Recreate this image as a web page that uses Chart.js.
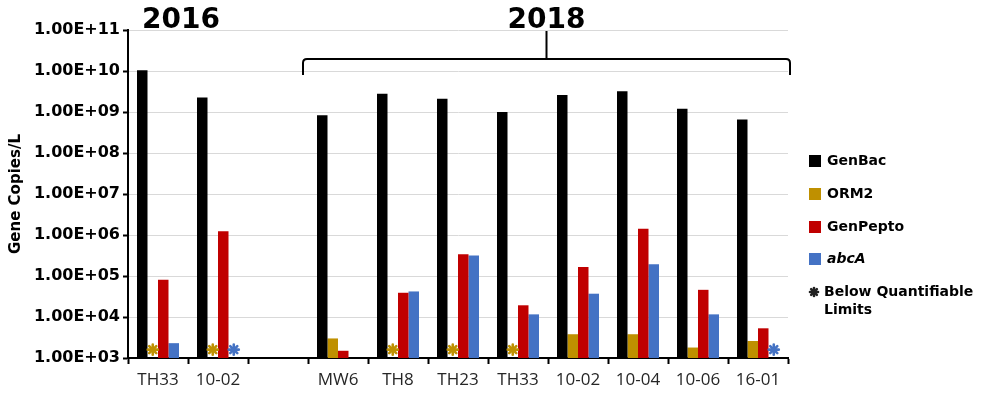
<!DOCTYPE html>
<html>
<head>
<meta charset="utf-8">
<script src="https://cdn.jsdelivr.net/npm/chart.js@4/dist/chart.umd.min.js"></script>
<style>
  html, body { margin: 0; padding: 0; background: #ffffff; }
  #chart { display: block; }
</style>
</head>
<body>
<canvas id="chart" width="988" height="396"></canvas>
<script>
// Sampling sites (the empty slot separates the 2016 and 2018 campaigns)
const categories = ['TH33', '10-02', '', 'MW6', 'TH8', 'TH23', 'TH33', '10-02', '10-04', '10-06', '16-01'];

// Gene copies per litre for each assay
const genBac   = [1.05e10, 2.25e9, null, 8.3e8, 2.8e9, 2.1e9, 1.0e9, 2.6e9, 3.2e9, 1.2e9, 6.6e8];
const orm2     = [null, null, null, 3.0e3, null, null, null, 3.8e3, 3.8e3, 1.8e3, 2.6e3];
const genPepto = [8.1e4, 1.23e6, null, 1.5e3, 3.9e4, 3.4e5, 1.93e4, 1.66e5, 1.43e6, 4.6e4, 5.3e3];
const abcA     = [2.3e3, null, null, null, 4.2e4, 3.15e5, 1.16e4, 3.7e4, 1.93e5, 1.16e4, null];

// Samples detected but below quantifiable limits
const orm2BelowLimit = [true, true, false, false, true, true, true, false, false, false, false];
const abcABelowLimit = [false, true, false, false, false, false, false, false, false, false, true];
const belowLimitLevel = 1.6e3;

// Axis decades
const yTickValues = [1e3, 1e4, 1e5, 1e6, 1e7, 1e8, 1e9, 1e10, 1e11];

// Campaign years: label and the category range it covers
const years = [
  { label: '2016', from: 0, to: 1, brace: false },
  { label: '2018', from: 3, to: 10, brace: true }
];

const seriesNames  = ['GenBac', 'ORM2', 'GenPepto', 'abcA'];
const seriesColors = ['#000000', '#BF9000', '#C00000', '#4472C4'];
const belowLimitText = ['Below Quantifiable', 'Limits'];

function sciLabel(v) {
  const e = Math.round(Math.log10(v));
  return '1.00E+' + String(e).padStart(2, '0');
}

function drawAsterisk(ctx, x, y, r, color) {
  ctx.save();
  ctx.strokeStyle = color;
  ctx.fillStyle = color;
  ctx.lineWidth = 2.6;
  ctx.lineCap = 'round';
  for (let k = 0; k < 4; k++) {
    const a = k * Math.PI / 4;
    ctx.beginPath();
    ctx.moveTo(x - Math.cos(a) * r, y - Math.sin(a) * r);
    ctx.lineTo(x + Math.cos(a) * r, y + Math.sin(a) * r);
    ctx.stroke();
  }
  ctx.beginPath();
  ctx.arc(x, y, r * 0.55, 0, Math.PI * 2);
  ctx.fill();
  ctx.restore();
}

const annotations = {
  id: 'annotations',
  afterDatasetsDraw(chart) {
    const ctx = chart.ctx;
    const y = chart.scales.y;
    const ref = chart.getDatasetMeta(0).data;
    const yMark = y.getPixelForValue(belowLimitLevel);
    // markers for samples below quantifiable limits
    const flagged = [[1, orm2BelowLimit], [3, abcABelowLimit]];
    flagged.forEach(([dsIndex, flags]) => {
      flags.forEach((f, i) => {
        if (!f) return;
        const bar = ref[i];
        const xm = bar.x + dsIndex * bar.width;
        drawAsterisk(ctx, xm, yMark, 5, seriesColors[dsIndex]);
      });
    });
  },
  afterDraw(chart) {
    const ctx = chart.ctx;
    const x = chart.scales.x;
    const half = (x.getPixelForValue(1) - x.getPixelForValue(0)) / 2;

    // year headings and the bracket grouping the 2018 sites
    ctx.save();
    ctx.fillStyle = '#000';
    ctx.strokeStyle = '#000';
    ctx.font = 'bold 28px "DejaVu Sans"';
    ctx.textAlign = 'center';
    ctx.textBaseline = 'alphabetic';
    years.forEach(yr => {
      const left = x.getPixelForValue(yr.from) - half;
      const right = x.getPixelForValue(yr.to) + half;
      if (yr.brace) {
        const l = left - 5, r = right + 2, mid = (l + r) / 2;
        const top = 59, bottom = 75;
        ctx.lineWidth = 2;
        ctx.beginPath();
        ctx.moveTo(l, bottom);
        ctx.lineTo(l, top + 4);
        ctx.quadraticCurveTo(l, top, l + 4, top);
        ctx.lineTo(r - 4, top);
        ctx.quadraticCurveTo(r, top, r, top + 4);
        ctx.lineTo(r, bottom);
        ctx.stroke();
        ctx.beginPath();
        ctx.moveTo(mid, top);
        ctx.lineTo(mid, 31);
        ctx.stroke();
        ctx.fillText(yr.label, mid, 28);
      } else {
        ctx.fillText(yr.label, (left + right) / 2 - 7, 28);
      }
    });
    ctx.restore();

    // legend
    ctx.save();
    const lx = 809, textX = 827;
    const rows = [161, 194, 227, 259];
    ctx.textBaseline = 'middle';
    ctx.textAlign = 'left';
    seriesNames.forEach((name, i) => {
      ctx.fillStyle = seriesColors[i];
      ctx.fillRect(lx, rows[i] - 6, 12, 12);
      ctx.fillStyle = '#000';
      ctx.font = (name === 'abcA' ? 'italic ' : '') + 'bold 14px "DejaVu Sans"';
      ctx.fillText(name, textX, rows[i]);
    });
    drawAsterisk(ctx, lx + 5, 292, 4, '#222');
    ctx.fillStyle = '#000';
    ctx.font = 'bold 14px "DejaVu Sans"';
    ctx.fillText(belowLimitText[0], textX - 3, 292);
    ctx.fillText(belowLimitText[1], textX - 3, 310);
    ctx.restore();
  }
};

const datasetValues = [genBac, orm2, genPepto, abcA];

new Chart(document.getElementById('chart'), {
  type: 'bar',
  data: {
    labels: categories,
    datasets: seriesNames.map((name, i) => ({
      label: name,
      data: datasetValues[i],
      backgroundColor: seriesColors[i],
      borderWidth: 0,
      barPercentage: 1,
      categoryPercentage: 0.7
    }))
  },
  options: {
    responsive: false,
    animation: false,
    layout: { padding: { top: 30, right: 200, bottom: 0, left: 0 } },
    plugins: {
      legend: { display: false },
      tooltip: { enabled: false }
    },
    scales: {
      x: {
        type: 'category',
        offset: true,
        grid: {
          offset: true,
          drawOnChartArea: false,
          tickLength: 6,
          tickColor: '#000',
          tickWidth: 2
        },
        border: { color: '#000', width: 2 },
        ticks: {
          font: { family: '"Open Sans"', size: 17 },
          color: '#262626',
          padding: 6,
          maxRotation: 0,
          autoSkip: false
        },
        afterFit(scale) { scale.height = 38; }
      },
      y: {
        type: 'logarithmic',
        min: 1e3,
        max: 1e11,
        afterBuildTicks(scale) {
          scale.ticks = yTickValues.map(v => ({ value: v }));
        },
        ticks: {
          callback: (v) => sciLabel(v),
          font: { family: '"DejaVu Sans"', weight: 'bold', size: 16 },
          color: '#000',
          padding: 3
        },
        grid: {
          color: '#d9d9d9',
          lineWidth: 1,
          tickColor: '#000',
          tickLength: 5,
          tickWidth: 2
        },
        border: { color: '#000', width: 2 },
        title: {
          display: true,
          text: 'Gene Copies/L',
          color: '#000',
          font: { family: '"DejaVu Sans"', weight: 'bold', size: 15 },
          padding: { top: 7, bottom: 0 }
        },
        afterFit(scale) { scale.width = 128; }
      }
    }
  },
  plugins: [annotations]
});
</script>
</body>
</html>
